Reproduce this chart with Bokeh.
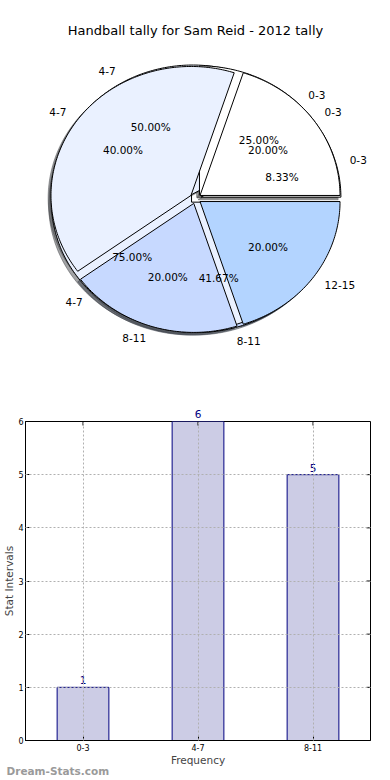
import numpy as np
from bokeh.plotting import figure
from bokeh.models import (Range1d, Label, LabelSet, ColumnDataSource, FactorRange,
                          FixedTicker, Title)
from bokeh.embed import file_html
from bokeh.resources import INLINE
from bokeh.core.properties import value

# ---------------- data ----------------
TITLE = "Handball tally for Sam Reid - 2012 tally"

pie1_labels = ["0-3", "4-7", "8-11"]
pie1_values = [1, 6, 5]

pie2_labels = ["0-3", "4-7"]
pie2_values = [1, 3]

pie3_labels = ["0-3", "4-7", "8-11", "12-15"]
pie3_values = [1, 2, 1, 1]

pie_colors = ["#ffffff", "#eaf1ff", "#c7d9ff", "#b3d4ff"]

bar_categories = ["0-3", "4-7", "8-11"]
bar_values = [1, 6, 5]
y_ticks = [0, 1, 2, 3, 4, 5, 6]
y_max = 6

X_LABEL = "Frequency"
Y_LABEL = "Stat Intervals"
WATERMARK = "Dream-Stats.com"

FONT = "DejaVu Sans"

# ---------------- layout ----------------
W = 390
H1 = 400
H2 = 780 - H1
RX, RY = 140.0, 129.0      # px per data unit (pie drawn as unit circle)
CX, CY = 195.0, 198.0      # pie centre in figure px (from top-left)
EXPLODE = 0.04
SHADOW = 0.02

pie = figure(width=W, height=H1,
             x_range=Range1d(-CX / RX, (W - CX) / RX),
             y_range=Range1d(-(H1 - CY) / RY, CY / RY),
             x_axis_location=None, y_axis_location=None,
             output_backend="svg", toolbar_location=None, min_border=0)
pie.grid.visible = False
pie.outline_line_color = None
pie.background_fill_color = "white"


def build(values, labels):
    total = float(sum(values))
    start = 0.0
    res = []
    for i, (v, lab) in enumerate(zip(values, labels)):
        frac = v / total
        t1 = start * 2 * np.pi
        t2 = (start + frac) * 2 * np.pi
        tm = 0.5 * (t1 + t2)
        ox = EXPLODE * np.cos(tm)
        oy = EXPLODE * np.sin(tm)
        n = max(int(np.degrees(t2 - t1)) + 2, 3)
        t = np.linspace(t1, t2, n)
        xs = [ox] + list(ox + np.cos(t)) + [ox]
        ys = [oy] + list(oy + np.sin(t)) + [oy]
        res.append(dict(xs=xs, ys=ys, tm=tm, ox=ox, oy=oy, frac=frac,
                        label=lab, color=pie_colors[i % len(pie_colors)]))
        start += frac
    return res


pies = [build(pie1_values, pie1_labels),
        build(pie2_values, pie2_labels),
        build(pie3_values, pie3_labels)]


def shade(hexcol):
    h = hexcol.lstrip("#")
    r, g, b = (int(h[k:k + 2], 16) for k in (0, 2, 4))
    return "#%02x%02x%02x" % (int(r * 0.3), int(g * 0.3), int(b * 0.3))


# shadows (all below all wedges)
for wl in pies:
    pie.patches(xs=[list(np.array(w["xs"]) - SHADOW) for w in wl],
                ys=[list(np.array(w["ys"]) - SHADOW) for w in wl],
                fill_color=[shade(w["color"]) for w in wl], fill_alpha=0.5,
                line_color=[shade(w["color"]) for w in wl], line_alpha=0.5,
                line_width=1)

# wedges, pie after pie
for wl in pies:
    pie.patches(xs=[w["xs"] for w in wl], ys=[w["ys"] for w in wl],
                fill_color=[w["color"] for w in wl], line_color="black",
                line_width=1)

# labels
lx_r, ly_r, lt_r = [], [], []
lx_l, ly_l, lt_l = [], [], []
px, py, pt = [], [], []
for wl in pies:
    for w in wl:
        x = w["ox"] + 1.1 * np.cos(w["tm"])
        y = w["oy"] + 1.1 * np.sin(w["tm"])
        if x > 0:
            lx_l.append(x); ly_l.append(y); lt_l.append(w["label"])
        else:
            lx_r.append(x); ly_r.append(y); lt_r.append(w["label"])
        px.append(w["ox"] + 0.6 * np.cos(w["tm"]))
        py.append(w["oy"] + 0.6 * np.sin(w["tm"]))
        pt.append("%1.2f%%" % (100 * w["frac"]))

common = dict(text_font=value(FONT), text_font_size="10.5px",
              text_color="black", text_baseline="middle")
pie.text(x=lx_l, y=ly_l, text=lt_l, text_align="left", **common)
pie.text(x=lx_r, y=ly_r, text=lt_r, text_align="right", **common)
pie.text(x=px, y=py, text=pt, text_align="center", **common)

pie.add_layout(Label(x=CX, y=H1 - 30, x_units="screen", y_units="screen",
                     text=TITLE, text_align="center", text_baseline="middle",
                     text_font=FONT, text_font_size="13px", text_color="black"))

# ---------------- bar chart ----------------
BL, BR = 19, 20
bar = figure(width=W, height=H2,
             x_range=FactorRange(*bar_categories), y_range=Range1d(0, y_max),
             output_backend="svg", toolbar_location=None,
             min_border_left=BL, min_border_right=BR,
             min_border_top=21, min_border_bottom=40)
bar.background_fill_color = "white"
bar.outline_line_color = "black"
bar.outline_line_width = 1
bar.outline_line_alpha = 1

inside = [i for i, v in enumerate(bar_values) if v < y_max]
src_all = ColumnDataSource(dict(cat=bar_categories, val=bar_values))
src_lab = ColumnDataSource(dict(cat=[bar_categories[i] for i in inside],
                                val=[bar_values[i] for i in inside],
                                txt=[str(bar_values[i]) for i in inside]))
bar.vbar(x="cat", top="val", width=0.45, source=src_all,
         fill_color="#ccccE5", line_color="#000080", line_width=1)

bar.add_layout(LabelSet(x="cat", y="val", text="txt", source=src_lab, y_offset=3,
                        text_align="center", text_baseline="bottom",
                        text_font=value(FONT), text_font_size="10.5px",
                        text_color="#000080"))

# inside tick marks on the right and top frame edges
n_cat = len(bar_categories)
bar.ray(x=[n_cat] * len(y_ticks), y=y_ticks, length=4, length_units="screen",
        angle=np.pi, line_color="black", line_width=1)
bar.ray(x=bar_categories, y=[y_max] * n_cat, length=4, length_units="screen",
        angle=-np.pi / 2, line_color="black", line_width=1)

# labels of bars reaching the top of the frame sit in the panel above it
for i, v in enumerate(bar_values):
    if v >= y_max:
        frame_w = W - BL - BR
        bar.add_layout(Title(text=str(v), align="center", vertical_align="middle",
                             offset=(i + 0.5 - n_cat / 2) * frame_w / n_cat,
                             text_font=FONT, text_font_size="10.5px",
                             text_font_style="normal", text_color="#000080",
                             standoff=6), "above")

bar.yaxis.ticker = FixedTicker(ticks=y_ticks)
for ax in (bar.xaxis[0], bar.yaxis[0]):
    ax.major_tick_in = 4
    ax.major_tick_out = 0
    ax.minor_tick_in = 0
    ax.minor_tick_out = 0
    ax.axis_line_color = "black"
    ax.major_tick_line_color = "black"
    ax.major_label_text_font = FONT
    ax.major_label_text_font_size = "8px"
    ax.major_label_text_color = "black"
    ax.major_label_standoff = 3
bar.yaxis.major_label_standoff = 2
for ax, lab in ((bar.xaxis[0], X_LABEL), (bar.yaxis[0], Y_LABEL)):
    ax.axis_label = lab
    ax.axis_label_text_font = FONT
    ax.axis_label_text_font_size = "10.5px"
    ax.axis_label_text_font_style = "normal"
bar.xaxis.axis_label_standoff = 0
bar.yaxis.axis_label_standoff = 0

for g in (bar.xgrid[0], bar.ygrid[0]):
    g.grid_line_color = "#b0b0b0"
    g.grid_line_dash = "2 2"
    g.grid_line_width = 1
    g.level = "overlay"

bar.add_layout(Title(text=WATERMARK, align="left", offset=-BL,
                     text_font=FONT, text_font_size="10.5px",
                     text_font_style="bold", text_color="#9a9a9a",
                     standoff=-12), "below")

open("out.html", "w").write(file_html([pie, bar], INLINE))
